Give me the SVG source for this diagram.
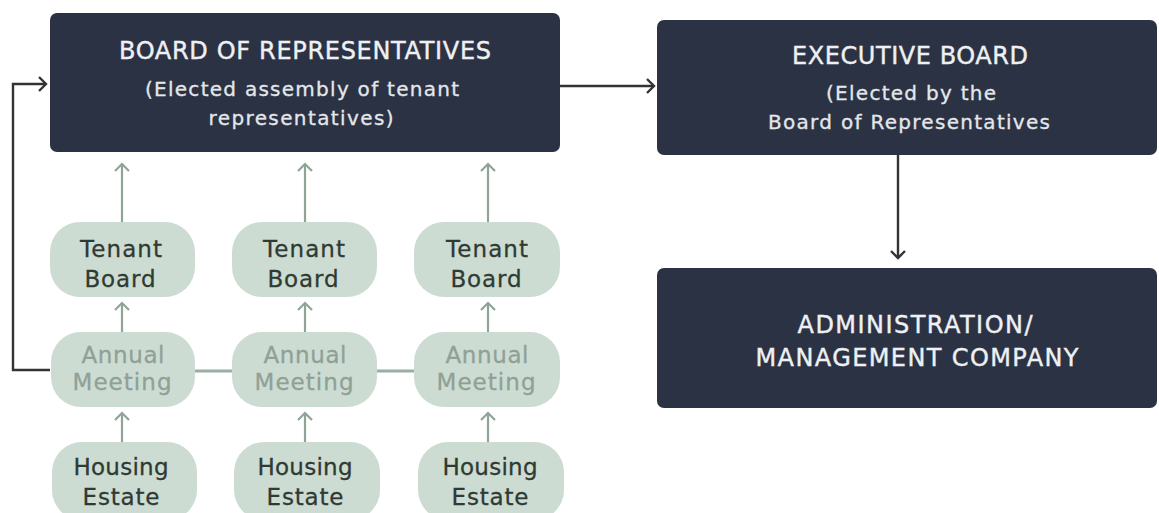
<svg xmlns="http://www.w3.org/2000/svg" width="1159" height="513" viewBox="0 0 1159 513">
  <style>
    .dark { fill: #2b3244; }
    .pill { fill: #cddcd2; }
    .t-dark-title { font-family: "DejaVu Sans", "Liberation Sans", sans-serif; font-size: 24px; fill: #eef0f2; stroke: #eef0f2; stroke-width: 0.4; text-anchor: middle; }
    .t-dark-sub { font-family: "DejaVu Sans", "Liberation Sans", sans-serif; font-size: 20px; fill: #e4e7ea; stroke: #e4e7ea; stroke-width: 0.3; text-anchor: middle; }
    .t-pill { font-family: "DejaVu Sans", "Liberation Sans", sans-serif; font-size: 23px; fill: #2f3a33; stroke: #2f3a33; stroke-width: 0.3; text-anchor: middle; }
    .t-pill-soft { font-family: "DejaVu Sans", "Liberation Sans", sans-serif; font-size: 23px; fill: #8fa197; stroke: #8fa197; stroke-width: 0.3; text-anchor: middle; }
    .flow-green { fill: none; stroke: #8ea596; stroke-width: 2.2; }
    .link-green { fill: none; stroke: #9aaea3; stroke-width: 3; }
    .flow-dark { fill: none; stroke: #333; stroke-width: 2.4; }
  </style>
  <defs>
    <marker id="head-green" markerWidth="16" markerHeight="16" refX="8" refY="8" orient="auto" markerUnits="userSpaceOnUse">
      <path d="M1,1 L8,8 L1,15" fill="none" stroke="#8ea596" stroke-width="2.2"/>
    </marker>
    <marker id="head-dark" markerWidth="16" markerHeight="16" refX="8" refY="8" orient="auto" markerUnits="userSpaceOnUse">
      <path d="M1,1 L8,8 L1,15" fill="none" stroke="#333" stroke-width="2.4"/>
    </marker>
  </defs>

  <rect width="1159" height="513" fill="#ffffff"/>

  <!-- connectors -->
  <g id="connectors">
    <!-- tenant boards up to the board of representatives -->
    <path class="flow-green" d="M122,222 V164" marker-end="url(#head-green)"/>
    <path class="flow-green" d="M305,222 V164" marker-end="url(#head-green)"/>
    <path class="flow-green" d="M488,222 V164" marker-end="url(#head-green)"/>
    <!-- annual meetings up to tenant boards -->
    <path class="flow-green" d="M122,332 V303" marker-end="url(#head-green)"/>
    <path class="flow-green" d="M305,332 V303" marker-end="url(#head-green)"/>
    <path class="flow-green" d="M488,332 V303" marker-end="url(#head-green)"/>
    <!-- housing estates up to annual meetings -->
    <path class="flow-green" d="M122,442 V413" marker-end="url(#head-green)"/>
    <path class="flow-green" d="M305,442 V413" marker-end="url(#head-green)"/>
    <path class="flow-green" d="M488,442 V413" marker-end="url(#head-green)"/>
    <!-- links between annual meetings -->
    <path class="link-green" d="M195,371 H232"/>
    <path class="link-green" d="M377,371 H414"/>
    <!-- annual meetings back to the board of representatives -->
    <path class="flow-dark" d="M50,370 H13 V84 H46" marker-end="url(#head-dark)"/>
    <!-- board of representatives to executive board -->
    <path class="flow-dark" d="M560,86 H654" marker-end="url(#head-dark)"/>
    <!-- executive board to administration -->
    <path class="flow-dark" d="M898,155 V258" marker-end="url(#head-dark)"/>
  </g>

  <g id="board-of-representatives">
    <rect class="dark" x="50" y="13" width="510" height="139" rx="7"/>
    <text class="t-dark-title" x="305" y="59" textLength="372" lengthAdjust="spacing">BOARD OF REPRESENTATIVES</text>
    <text class="t-dark-sub" x="302" y="96" textLength="314" lengthAdjust="spacing">(Elected assembly of tenant</text>
    <text class="t-dark-sub" x="301" y="125" textLength="185" lengthAdjust="spacing">representatives)</text>
  </g>

  <g id="executive-board">
    <rect class="dark" x="657" y="20" width="500" height="135" rx="7"/>
    <text class="t-dark-title" x="910" y="64" textLength="236" lengthAdjust="spacing">EXECUTIVE BOARD</text>
    <text class="t-dark-sub" x="911" y="100" textLength="170" lengthAdjust="spacing">(Elected by the</text>
    <text class="t-dark-sub" x="909" y="129" textLength="282" lengthAdjust="spacing">Board of Representatives</text>
  </g>

  <g id="administration">
    <rect class="dark" x="657" y="268" width="500" height="140" rx="7"/>
    <text class="t-dark-title" x="915" y="333" textLength="235" lengthAdjust="spacing">ADMINISTRATION/</text>
    <text class="t-dark-title" x="917" y="366" textLength="323" lengthAdjust="spacing">MANAGEMENT COMPANY</text>
  </g>

  <g id="tenant-board-1">
    <rect class="pill" x="50" y="222" width="145" height="75" rx="30"/>
    <text class="t-pill" x="121" y="257" textLength="82" lengthAdjust="spacing">Tenant</text>
    <text class="t-pill" x="120" y="287" textLength="71" lengthAdjust="spacing">Board</text>
  </g>
  <g id="tenant-board-2">
    <rect class="pill" x="232" y="222" width="145" height="75" rx="30"/>
    <text class="t-pill" x="304" y="257" textLength="82" lengthAdjust="spacing">Tenant</text>
    <text class="t-pill" x="303" y="287" textLength="71" lengthAdjust="spacing">Board</text>
  </g>
  <g id="tenant-board-3">
    <rect class="pill" x="414" y="222" width="146" height="75" rx="30"/>
    <text class="t-pill" x="487" y="257" textLength="82" lengthAdjust="spacing">Tenant</text>
    <text class="t-pill" x="486" y="287" textLength="71" lengthAdjust="spacing">Board</text>
  </g>

  <g id="annual-meeting-1">
    <rect class="pill" x="51" y="332" width="144" height="75" rx="30"/>
    <text class="t-pill-soft" x="123" y="363" textLength="83" lengthAdjust="spacing">Annual</text>
    <text class="t-pill-soft" x="122" y="390" textLength="99" lengthAdjust="spacing">Meeting</text>
  </g>
  <g id="annual-meeting-2">
    <rect class="pill" x="232" y="332" width="145" height="75" rx="30"/>
    <text class="t-pill-soft" x="305" y="363" textLength="83" lengthAdjust="spacing">Annual</text>
    <text class="t-pill-soft" x="304" y="390" textLength="99" lengthAdjust="spacing">Meeting</text>
  </g>
  <g id="annual-meeting-3">
    <rect class="pill" x="414" y="332" width="146" height="75" rx="30"/>
    <text class="t-pill-soft" x="487" y="363" textLength="83" lengthAdjust="spacing">Annual</text>
    <text class="t-pill-soft" x="486" y="390" textLength="99" lengthAdjust="spacing">Meeting</text>
  </g>

  <g id="housing-estate-1">
    <rect class="pill" x="52" y="442" width="145" height="78" rx="30"/>
    <text class="t-pill" x="121" y="475" textLength="95" lengthAdjust="spacing">Housing</text>
    <text class="t-pill" x="121" y="505" textLength="77" lengthAdjust="spacing">Estate</text>
  </g>
  <g id="housing-estate-2">
    <rect class="pill" x="234" y="442" width="146" height="78" rx="30"/>
    <text class="t-pill" x="305" y="475" textLength="95" lengthAdjust="spacing">Housing</text>
    <text class="t-pill" x="305" y="505" textLength="77" lengthAdjust="spacing">Estate</text>
  </g>
  <g id="housing-estate-3">
    <rect class="pill" x="418" y="442" width="146" height="78" rx="30"/>
    <text class="t-pill" x="490" y="475" textLength="95" lengthAdjust="spacing">Housing</text>
    <text class="t-pill" x="490" y="505" textLength="77" lengthAdjust="spacing">Estate</text>
  </g>
</svg>
